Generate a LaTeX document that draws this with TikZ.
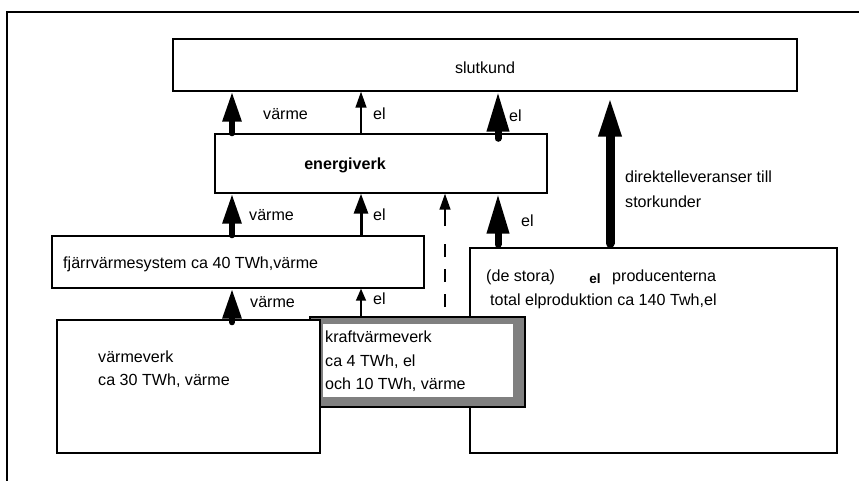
\documentclass[tikz,border=0pt]{standalone}
\usepackage{fontspec}
\setmainfont{Liberation Sans}
\usetikzlibrary{arrows.meta,fit}

\definecolor{kvgray}{RGB}{128,128,128}

\tikzset{
  box/.style={draw, line width=1.4pt, inner sep=0pt, fill=white},
  lbl/.style={inner sep=0pt, anchor=west, text height=11pt, text depth=3pt,
    font=\fontsize{16.1}{18}\selectfont},
  lblbold/.style={lbl, font=\fontsize{16.1}{18}\selectfont\bfseries},
  heat/.style={line width=6pt, line cap=round, -{Triangle[length=30pt,width=18pt]}},
  heatbig/.style={line width=7pt, line cap=round, -{Triangle[length=40pt,width=21pt]}},
  direkt/.style={line width=9pt, line cap=round, -{Triangle[length=40pt,width=21pt]}},
  elmid/.style={line width=3pt, -{Triangle[length=20pt,width=14pt]}},
  elthin/.style={line width=1.5pt, -{Triangle[length=16pt,width=11pt]}},
  elsmall/.style={line width=1.5pt, -{Triangle[length=12pt,width=10pt]}},
  dashline/.style={line width=1.5pt, dash pattern=on 13pt off 12pt}
}

\begin{document}
\begin{tikzpicture}[x=1pt,y=-1pt]
  \useasboundingbox (0,0) rectangle (859,480);
  \clip (0,0) rectangle (859,480);
  % outer frame
  \draw[line width=1.3pt] (7,12) rectangle (880,500);

  % boxes
  \node[box, fit={(173,39) (797,91)}] (slutkund) {};
  \node[box, fit={(215,134) (547,193)}] (energiverk) {};
  \node[box, fit={(52,236) (424,288)}] (fjarr) {};
  \node[box, fit={(470,248) (837,453)}] (prod) {};
  \node[box, fill=kvgray, fit={(310,317) (525,407)}] (kraft) {};
  \node[fill=white, inner sep=0pt, fit={(323,324) (513,397)}] (kraftinner) {};
  \node[box, fit={(57,320) (320,453)}] (varmeverk) {};

  % box texts
  \node[lbl, anchor=center] (slutkundtxt) at (485,69) {slutkund};
  \node[lblbold, anchor=center] (energiverktxt) at (345,165) {energiverk};
  \node[lbl] (fjarrtxt) at (63,264) {fjärrvärmesystem ca 40 TWh,värme};
  \node[lbl] (varmeverktxt) at (98,358) {värmeverk};
  \node[lbl] (varmeverktwh) at (98,381) {ca 30 TWh, värme};
  \node[lbl] (krafttxt) at (325,338) {kraftvärmeverk};
  \node[lbl] (kraftel) at (325,362) {ca 4 TWh, el};
  \node[lbl] (kraftvarme) at (325,385) {och 10 TWh, värme};
  \node[lbl] (prodstora) at (486,277) {(de stora)};
  \node[lbl, anchor=center, font=\fontsize{13.5}{16}\selectfont\bfseries] (prodel) at (595,279) {el};
  \node[lbl] (prodprod) at (612,277) {producenterna};
  \node[lbl] (prodtotal) at (490,301) {total elproduktion ca 140 Twh,el};
  \node[lbl] (direkttxt) at (625,178) {direktelleveranser till};
  \node[lbl] (direktstor) at (625,203) {storkunder};

  % arrow columns
  \coordinate (xheat) at (232,0);
  \coordinate (xel) at (361,0);
  \coordinate (xdash) at (445,0);
  \coordinate (xbig) at (498,0);
  \coordinate (xdirekt) at (610,0);
  \coordinate (dashfoot) at (445,307);
  \coordinate (dashknee) at (445,243);
  \coordinate (dashtip) at (445,226);

  % energiverk -> slutkund
  \draw[heat] (energiverk.north -| xheat) -- (slutkund.south -| xheat);
  \draw[elthin] (energiverk.north -| xel) -- (slutkund.south -| xel);
  \draw[heatbig] ([yshift=-5pt]energiverk.north -| xbig) -- (slutkund.south -| xbig);
  \node[lbl] (l1) at (263,115) {värme};
  \node[lbl] (l2) at (373,115) {el};
  \node[lbl] (l3) at (509,117) {el};

  % direct delivery
  \draw[direkt] ([yshift=4pt]prod.north -| xdirekt) -- ([yshift=-5pt]slutkund.south -| xdirekt);

  % fjarr/prod -> energiverk
  \draw[heat] (fjarr.north -| xheat) -- (energiverk.south -| xheat);
  \draw[elmid] (fjarr.north -| xel) -- (energiverk.south -| xel);
  \draw[dashline] (dashfoot) -- (dashknee);
  \draw[elthin] (dashtip) -- (energiverk.south -| xdash);
  \draw[heatbig] ([yshift=3pt]prod.north -| xbig) -- (energiverk.south -| xbig);
  \node[lbl] (l4) at (249,216) {värme};
  \node[lbl] (l5) at (373,216) {el};
  \node[lbl] (l6) at (521,222) {el};

  % varmeverk/kraft -> fjarr
  \draw[heat] ([yshift=-3pt]varmeverk.north -| xheat) -- (fjarr.south -| xheat);
  \draw[elsmall] (kraft.north -| xel) -- (fjarr.south -| xel);
  \node[lbl] (l7) at (250,303) {värme};
  \node[lbl] (l8) at (373,300) {el};
\end{tikzpicture}
\end{document}
